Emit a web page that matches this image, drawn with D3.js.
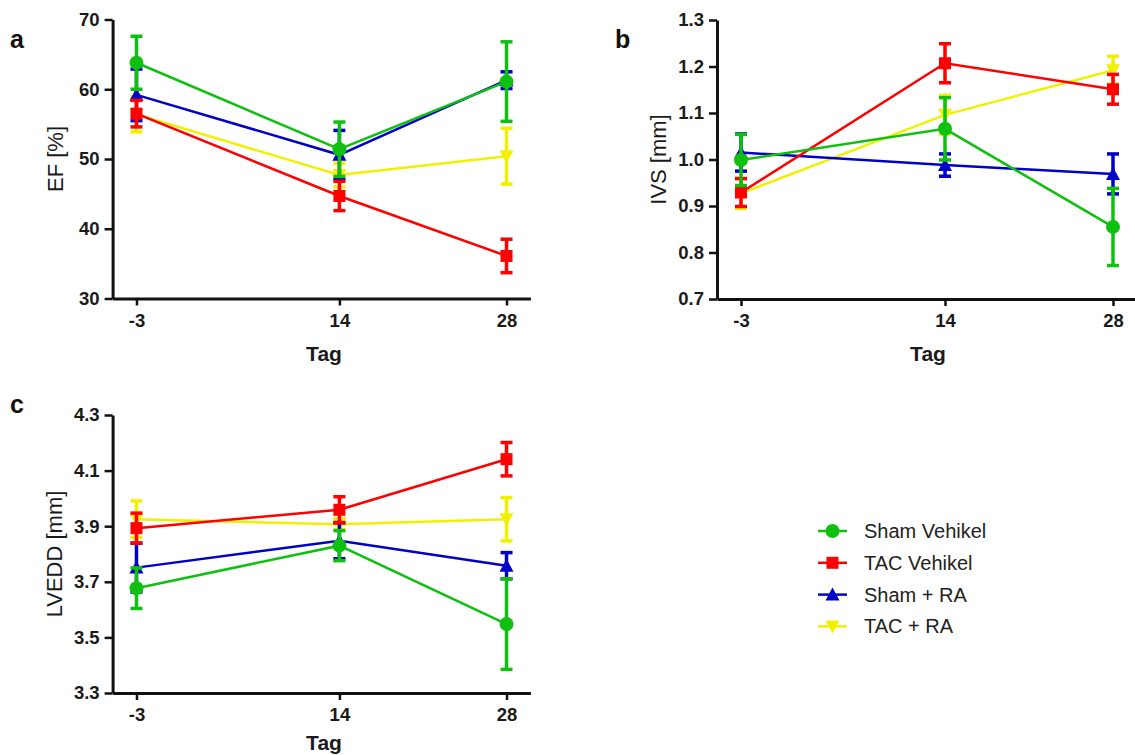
<!DOCTYPE html>
<html>
<head>
<meta charset="utf-8">
<script src="https://cdnjs.cloudflare.com/ajax/libs/d3/7.8.5/d3.min.js"></script>
<style>
body { margin: 0; background: #fff; }
text { font-family: "Liberation Sans", Arial, sans-serif; }
</style>
</head>
<body>
<svg id="chart" width="1135" height="755"></svg>
<script>
var days = [-3, 14, 28];
var groups = ["Sham Vehikel", "TAC Vehikel", "Sham + RA", "TAC + RA"];
var colors = ["#10c010", "#ff0000", "#0000c8", "#f0f000"];
var shapes = ["circle", "square", "up", "down"];

// EF [%]  (mean, sem) per group
var efMean = [[63.8, 51.4, 61.1], [56.5, 44.7, 36.1], [59.2, 50.6, 61.3], [56.4, 47.7, 50.4]];
var efErr  = [[3.8, 3.9, 5.7], [1.9, 2.1, 2.4], [3.7, 3.5, 1.2], [2.5, 1.7, 4.0]];
var efTicks = [30, 40, 50, 60, 70];

// IVS [mm]
var ivsMean = [[0.999, 1.066, 0.855], [0.929, 1.207, 1.151], [1.015, 0.988, 0.969], [0.927, 1.096, 1.192]];
var ivsErr  = [[0.055, 0.067, 0.083], [0.030, 0.042, 0.032], [0.040, 0.024, 0.043], [0.032, 0.042, 0.030]];
var ivsTicks = [0.7, 0.8, 0.9, 1.0, 1.1, 1.2, 1.3];

// LVEDD [mm]
var lvMean = [[3.677, 3.830, 3.548], [3.893, 3.959, 4.141], [3.751, 3.848, 3.758], [3.925, 3.907, 3.925]];
var lvErr  = [[0.073, 0.054, 0.163], [0.054, 0.047, 0.060], [0.088, 0.065, 0.047], [0.066, 0.020, 0.078]];
var lvTicks = [3.3, 3.5, 3.7, 3.9, 4.1, 4.3];

var svg = d3.select("#chart");
var drawOrder = [3, 2, 1, 0];

function marker(g, shape, color, x, y) {
    if (shape == "circle") {
        g.append("circle").attr("cx", x).attr("cy", y).attr("r", 7).attr("fill", color);
    } else if (shape == "square") {
        g.append("rect").attr("x", x - 6).attr("y", y - 6).attr("width", 12).attr("height", 12).attr("fill", color);
    } else if (shape == "up") {
        g.append("path").attr("d", "M" + x + "," + (y - 7) + "L" + (x + 7) + "," + (y + 6) + "L" + (x - 7) + "," + (y + 6) + "Z").attr("fill", color);
    } else {
        g.append("path").attr("d", "M" + x + "," + (y + 7) + "L" + (x + 7) + "," + (y - 6) + "L" + (x - 7) + "," + (y - 6) + "Z").attr("fill", color);
    }
}

function panel(opt) {
    var x = d3.scaleLinear().domain([-5, 30]).range([opt.left, opt.right]);
    var y = d3.scaleLinear().domain([opt.ticks[0], opt.ticks[opt.ticks.length - 1]]).range([opt.bottom, opt.top]);
    var g = svg.append("g");

    g.append("g").attr("transform", "translate(0," + opt.bottom + ")")
        .call(d3.axisBottom(x).tickValues(days).tickFormat(function(d) { return String(d); })
            .tickSize(7).tickSizeOuter(0).tickPadding(8));
    g.append("g").attr("transform", "translate(" + opt.left + ",0)")
        .call(d3.axisLeft(y).tickValues(opt.ticks).tickFormat(opt.fmt).tickSize(8).tickSizeOuter(0).tickPadding(5));
    g.selectAll(".domain").attr("stroke", "#111").attr("stroke-width", 3);
    g.selectAll(".tick line").attr("stroke", "#111").attr("stroke-width", 2.5);
    g.selectAll(".tick text").attr("fill", "#1a1a1a").style("font-size", "18.5px").style("font-weight", "bold")
        .style("font-family", "'Liberation Sans', Arial, sans-serif");

    g.append("text").attr("x", opt.tagX).attr("y", opt.bottom + opt.tagDy)
        .attr("text-anchor", "middle").style("font-size", "21px").style("font-weight", "bold")
        .attr("fill", "#1a1a1a").text("Tag");
    g.append("text").attr("transform", "translate(" + opt.titleX + "," + ((opt.top + opt.bottom) / 2) + ") rotate(-90)")
        .attr("text-anchor", "middle").attr("dy", "0.35em").style("font-size", "22px")
        .attr("fill", "#1a1a1a").text(opt.title);
    g.append("text").attr("x", opt.labelX).attr("y", opt.labelY)
        .style("font-size", "25px").style("font-weight", "bold").attr("fill", "#111").text(opt.label);

    var line = d3.line().x(function(d, i) { return x(days[i]); }).y(function(d) { return y(d); });

    drawOrder.forEach(function(k) {
        var s = g.append("g");
        var c = colors[k];
        s.append("path").attr("d", line(opt.mean[k])).attr("fill", "none")
            .attr("stroke", c).attr("stroke-width", 2.5);
        opt.mean[k].forEach(function(m, i) {
            var px = x(days[i]);
            var hi = y(m + opt.err[k][i]);
            var lo = y(m - opt.err[k][i]);
            s.append("line").attr("x1", px).attr("x2", px).attr("y1", hi).attr("y2", lo)
                .attr("stroke", c).attr("stroke-width", 3.5);
            s.append("line").attr("x1", px - 6).attr("x2", px + 6).attr("y1", hi).attr("y2", hi)
                .attr("stroke", c).attr("stroke-width", 3.5);
            s.append("line").attr("x1", px - 6).attr("x2", px + 6).attr("y1", lo).attr("y2", lo)
                .attr("stroke", c).attr("stroke-width", 3.5);
            marker(s, shapes[k], c, px, y(m));
        });
    });
}

panel({ left: 112.6, right: 530.4, top: 19.5, bottom: 298.5, ticks: efTicks, fmt: d3.format("d"),
    mean: efMean, err: efErr, title: "EF [%]", titleX: 55, label: "a", labelX: 10, labelY: 48,
    tagX: 324, tagDy: 62 });
panel({ left: 717, right: 1137, top: 20, bottom: 299, ticks: ivsTicks, fmt: d3.format(".1f"),
    mean: ivsMean, err: ivsErr, title: "IVS [mm]", titleX: 658, label: "b", labelX: 615, labelY: 48,
    tagX: 928, tagDy: 62 });
panel({ left: 112.6, right: 530.4, top: 415, bottom: 693, ticks: lvTicks, fmt: d3.format(".1f"),
    mean: lvMean, err: lvErr, title: "LVEDD [mm]", titleX: 54, label: "c", labelX: 10, labelY: 413,
    tagX: 324, tagDy: 57 });

// legend
var legend = svg.append("g");
groups.forEach(function(name, k) {
    var ly = 531 + k * 31.8;
    legend.append("line").attr("x1", 818).attr("x2", 847).attr("y1", ly).attr("y2", ly)
        .attr("stroke", colors[k]).attr("stroke-width", 2.5);
    marker(legend, shapes[k], colors[k], 832.5, ly);
    legend.append("text").attr("x", 864).attr("y", ly).attr("dy", "0.35em")
        .style("font-size", "20px").attr("fill", "#222").text(name);
});
</script>
</body>
</html>
